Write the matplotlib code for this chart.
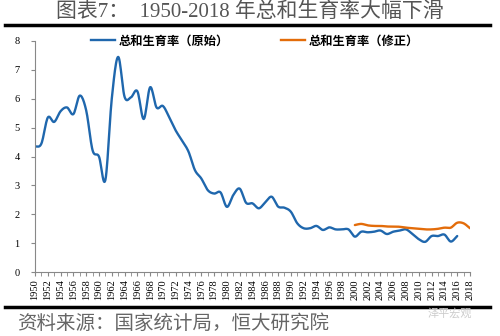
import numpy as np
import matplotlib
matplotlib.use("Agg")
import matplotlib.pyplot as plt
from matplotlib.lines import Line2D

plt.rcParams['font.family'] = ['Liberation Serif', 'Noto Sans CJK SC', 'DejaVu Sans']

# total fertility rate, official series 1950-2016
years_raw = list(range(1950, 2017))
tfr_raw = [4.34, 4.45, 5.35, 5.20, 5.57, 5.70, 5.47, 6.11, 5.60, 4.22,
           4.00, 3.19, 6.00, 7.45, 6.07, 6.05, 6.26, 5.30, 6.40, 5.70,
           5.75, 5.35, 4.90, 4.55, 4.17, 3.53, 3.24, 2.84, 2.72, 2.76,
           2.26, 2.67, 2.89, 2.40, 2.38, 2.21, 2.42, 2.61, 2.27, 2.23,
           2.09, 1.69, 1.52, 1.52, 1.60, 1.46, 1.55, 1.48, 1.48, 1.48,
           1.23, 1.40, 1.38, 1.40, 1.44, 1.32, 1.40, 1.44, 1.48, 1.32,
           1.14, 1.05, 1.25, 1.25, 1.30, 1.06, 1.25]

# revised series 2000-2018
years_adj = list(range(2000, 2019))
tfr_adj = [1.63, 1.67, 1.62, 1.60, 1.60, 1.58, 1.58, 1.57, 1.54, 1.52,
           1.50, 1.48, 1.48, 1.50, 1.54, 1.54, 1.71, 1.69, 1.52]

label_raw = "总和生育率（原始）"
label_adj = "总和生育率（修正）"
title = "图表7：  1950-2018 年总和生育率大幅下滑"
source = "资料来源：国家统计局，恒大研究院"

blue = "#1f67ad"
orange = "#e36c0a"


def smooth(x, y, n=12):
    # Catmull-Rom curve through the points, like a smoothed Excel line
    x = np.asarray(x, float)
    y = np.asarray(y, float)
    px = np.concatenate([[2 * x[0] - x[1]], x, [2 * x[-1] - x[-2]]])
    py = np.concatenate([[2 * y[0] - y[1]], y, [2 * y[-1] - y[-2]]])
    t = np.linspace(0, 1, n, endpoint=False)
    xs, ys = [], []
    for i in range(1, len(px) - 2):
        for p, out in ((px, xs), (py, ys)):
            p0, p1, p2, p3 = p[i - 1], p[i], p[i + 1], p[i + 2]
            out.extend(0.5 * (2 * p1 + (-p0 + p2) * t
                              + (2 * p0 - 5 * p1 + 4 * p2 - p3) * t ** 2
                              + (-p0 + 3 * p1 - 3 * p2 + p3) * t ** 3))
    xs.append(x[-1])
    ys.append(y[-1])
    return xs, ys


fig = plt.figure(figsize=(5, 3.36), dpi=100)
ax = fig.add_axes([0.07, 0.19, 0.87, 0.688])

ax.plot(*smooth(years_raw, tfr_raw), color=blue, lw=1.7, solid_capstyle='round')
ax.plot(*smooth(years_adj, tfr_adj), color=orange, lw=1.7, solid_capstyle='round')

ax.set_xlim(1950, 2018)
ax.set_ylim(0, 8)
ax.set_xticks(range(1950, 2019, 2))
ax.set_xticklabels([str(y) for y in range(1950, 2019, 2)], rotation=90, fontsize=7.5)
ax.set_xticks(range(1950, 2019), minor=True)
ax.set_yticks(range(0, 9))
ax.tick_params(axis='y', labelsize=7.5, length=3, color='#888888', pad=8)
ax.tick_params(axis='x', which='both', length=3, color='#888888', pad=2)
for s in ('top', 'right'):
    ax.spines[s].set_visible(False)
for s in ('left', 'bottom'):
    ax.spines[s].set_color('#888888')
    ax.spines[s].set_linewidth(0.8)

handles = [Line2D([], [], color=blue, lw=1.7), Line2D([], [], color=orange, lw=1.7)]
fig.legend(handles, [label_raw, label_adj], ncol=2, loc='center',
           bbox_to_anchor=(0.51, 0.878), frameon=False, columnspacing=4.2,
           handlelength=2.0, handletextpad=0.3,
           prop={'family': 'Noto Sans CJK SC', 'size': 8.8, 'weight': 'bold'})

fig.text(0.5, 0.963, title, ha='center', va='center', fontsize=15, color='#555555')
fig.add_artist(Line2D([0.01, 0.98], [0.925, 0.925], color='black', lw=2.5))
fig.add_artist(Line2D([0.01, 0.98], [0.085, 0.085], color='black', lw=2.5))
fig.text(0.035, 0.037, source, ha='left', va='center', fontsize=14, color='#666666',
         family='Noto Sans CJK SC', style='italic')
fig.text(0.9, 0.068, "泽平宏观", ha='center', va='center', fontsize=8, color='#cccccc',
         family='Noto Sans CJK SC')

fig.savefig("out.png", dpi=100)
